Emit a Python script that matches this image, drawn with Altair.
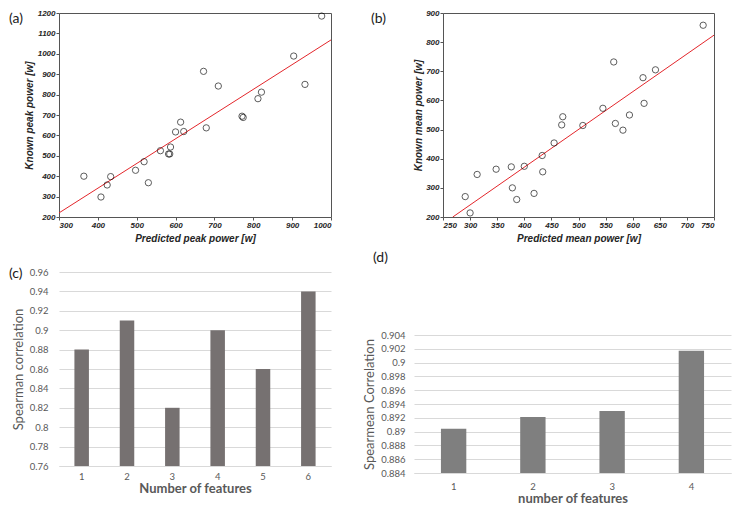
import altair as alt
import pandas as pd

# ---------------- data ----------------
# (a) peak power
a_pred = [364, 408, 424, 433, 497, 519, 530, 561, 582, 585, 587, 600, 613, 621,
          672, 679, 710, 771, 774, 812, 821, 904, 933, 976]
a_known = [400, 298, 357, 398, 429, 471, 368, 525, 509, 509, 543, 617, 665, 619,
           914, 637, 842, 694, 688, 780, 812, 989, 850, 1185]
a_fit_x = [300, 1000]
a_fit_y = [220, 1068]
a_xticks = [300, 400, 500, 600, 700, 800, 900, 1000]
a_yticks = [200, 300, 400, 500, 600, 700, 800, 900, 1000, 1100, 1200]

# (b) mean power
b_pred = [291, 300, 313, 348, 376, 378, 386, 400, 418, 433, 434, 455, 469, 471,
          508, 545, 565, 568, 582, 594, 619, 621, 642, 730]
b_known = [270, 214, 346, 364, 372, 300, 260, 374, 281, 411, 355, 454, 516, 544,
           514, 573, 732, 521, 498, 550, 678, 590, 705, 858]
b_fit_x = [268, 750]
b_fit_y = [200, 824]
b_xticks = [250, 300, 350, 400, 450, 500, 550, 600, 650, 700, 750]
b_yticks = [200, 300, 400, 500, 600, 700, 800, 900]

# (c) spearman vs number of features
c_features = ["1", "2", "3", "4", "5", "6"]
c_corr = [0.88, 0.91, 0.82, 0.90, 0.86, 0.94]
c_yticks = [0.76, 0.78, 0.80, 0.82, 0.84, 0.86, 0.88, 0.90, 0.92, 0.94, 0.96]

# (d)
d_features = ["1", "2", "3", "4"]
d_corr = [0.8904, 0.8921, 0.8930, 0.9017]
d_yticks = [0.884, 0.886, 0.888, 0.890, 0.892, 0.894, 0.896, 0.898, 0.900, 0.902, 0.904]

tags = ["(a)", "(b)", "(c)", "(d)"]

# ---------------- styles ----------------
MAT = dict(labelFont="Liberation Sans", labelFontSize=8, labelFontWeight="bold",
           labelFontStyle="italic", labelColor="#262626", labelOverlap=False,
           titleFont="Liberation Sans", titleFontSize=10, titleFontWeight="bold",
           titleFontStyle="italic", titleColor="#262626", format="d",
           domain=False, grid=False, ticks=True, tickSize=3, tickColor="#555555",
           labelPadding=1)

XL_X = dict(labelFont="Lato", labelFontSize=9.5, labelColor="#595959", labelAngle=0,
            titleFont="Lato", titleFontSize=13, titleFontWeight="bold", titleColor="#595959",
            domain=True, domainColor="#d9d9d9", ticks=False, grid=False)
XL_Y = dict(labelFont="Lato", labelFontSize=9.5, labelColor="#595959", labelOverlap=False,
            titleFont="Lato", titleFontSize=13, titleFontWeight="normal", titleColor="#595959",
            domain=False, ticks=False, grid=True, gridColor="#d9d9d9")

TAG = dict(font="Lato", fontSize=14, color="#1a1a1a", align="left", baseline="top")


def scatter_panel(pred, known, fx, fy, xdom, ydom, xticks, yticks, xtitle, ytitle,
                  tag, tag_dx, w, h, ytpad):
    pts = pd.DataFrame({"p": pred, "k": known})
    fit = pd.DataFrame({"p": fx, "k": fy})
    xs = alt.Scale(domain=xdom, nice=False, zero=False)
    ys = alt.Scale(domain=ydom, nice=False, zero=False)
    xax = alt.Axis(values=xticks, title=xtitle, titlePadding=4, **MAT)
    yax = alt.Axis(values=yticks, title=ytitle, titlePadding=ytpad, **MAT)
    enc = dict(x=alt.X("p:Q", scale=xs, axis=xax), y=alt.Y("k:Q", scale=ys, axis=yax))
    line = alt.Chart(fit).mark_line(color="#e3262b", strokeWidth=1, clip=True).encode(**enc)
    points = alt.Chart(pts).mark_point(shape="circle", filled=False, color="black",
                                       size=40, strokeWidth=0.9).encode(**enc)
    lab = alt.Chart(pd.DataFrame({"t": [tag]})).mark_text(**TAG).encode(
        text="t:N", x=alt.value(tag_dx), y=alt.value(-1))
    return alt.layer(line, points, lab).properties(
        width=w, height=h, view=alt.ViewBackground(stroke="#555555", strokeWidth=1))


pa = scatter_panel(a_pred, a_known, a_fit_x, a_fit_y, [300, 1000], [200, 1200],
                   a_xticks, a_yticks, "Predicted peak power [w]", "Known  peak power [w]",
                   tags[0], -50, 272, 204, 3)
pb = scatter_panel(b_pred, b_known, b_fit_x, b_fit_y, [250, 750], [200, 900],
                   b_xticks, b_yticks, "Predicted mean power [w]", "Known mean power [w]",
                   tags[1], -72, 271, 204, 2)

# (c)
C_H = 194
dfc = pd.DataFrame({"f": c_features, "v": c_corr, "base": [c_yticks[0]] * len(c_corr)})
c_bars = alt.Chart(dfc).mark_bar(color="#767171").encode(
    x=alt.X("f:O", sort=c_features, scale=alt.Scale(paddingInner=0.68, paddingOuter=0.34),
            axis=alt.Axis(title="Number of features", labelPadding=5, titlePadding=2, **XL_X)),
    y=alt.Y("v:Q", scale=alt.Scale(domain=[c_yticks[0], c_yticks[-1]], nice=False, zero=False),
            axis=alt.Axis(values=c_yticks, format=".2~f", title="Spearman correlation",
                          labelPadding=11, titlePadding=4, **XL_Y)),
    y2="base:Q")
c_lab = alt.Chart(pd.DataFrame({"t": [tags[2]]})).mark_text(**TAG).encode(
    text="t:N", x=alt.value(-50), y=alt.value(-5))
pc = alt.layer(c_bars, c_lab).properties(width=272, height=C_H)

# (d) -- plot area sits lower than (c): y range starts 63 px below the panel top
D_H = 201
D_TOP = 63
dfd = pd.DataFrame({"f": d_features, "v": d_corr, "base": [d_yticks[0]] * len(d_corr)})
d_bars = alt.Chart(dfd).mark_bar(color="#7f7f7f").encode(
    x=alt.X("f:O", sort=d_features, scale=alt.Scale(paddingInner=0.68, paddingOuter=0.34),
            axis=alt.Axis(title="number of features", labelPadding=8, titlePadding=2, **XL_X)),
    y=alt.Y("v:Q", scale=alt.Scale(domain=[d_yticks[0], d_yticks[-1]], range=[D_H, D_TOP],
                                   nice=False, zero=False),
            axis=alt.Axis(values=d_yticks, format=".3~f", title="Spearmean Correlation",
                          labelPadding=9, titlePadding=4, **XL_Y)),
    y2="base:Q")
d_lab = alt.Chart(pd.DataFrame({"t": [tags[3]]})).mark_text(**TAG).encode(
    text="t:N", x=alt.value(-41), y=alt.value(-21))
pdd = alt.layer(d_bars, d_lab).properties(width=317, height=D_H)

top = alt.hconcat(pa, pb, spacing=112, bounds="flush")
bottom = alt.hconcat(pc, pdd, spacing=83, bounds="flush")
chart = alt.vconcat(top, bottom, spacing=6).properties(
    padding=0).configure_view(stroke="transparent")

chart.save("out.html", embed_options={"renderer": "svg", "actions": False})
